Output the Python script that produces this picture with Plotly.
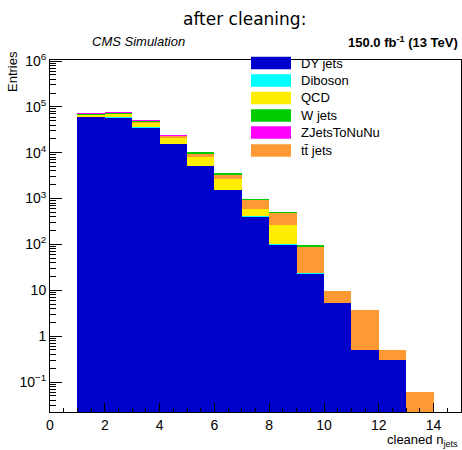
import plotly.graph_objects as go

# bin centres of cleaned n_jets (bins of width 1)
bin_centers = [1.5, 2.5, 3.5, 4.5, 5.5, 6.5, 7.5, 8.5, 9.5, 10.5, 11.5, 12.5, 13.5]

dy_jets = [61000, 60000, 35500, 15700, 5200, 1545, 406, 102, 23.8, 5.3, 0.5, 0.3, None]
diboson = [200, 200, 150, 100, 40, 8, 1, 0.3, 0.05, None, None, None, None]
qcd = [7500, 11000, 10800, 5650, 2900, 1145, 199, 163, None, None, None, None, None]
ttbar = [600, 800, 2500, 2300, 1550, 700, 350, 220, 68, 4.2, 3.15, 0.19, 0.06]
w_jets = [700, 1500, 600, 500, 270, 70, 20, 9, 2, None, None, None, None]
zjets_nunu = [30, 30, 20, 10, None, None, None, None, None, None, None, None, None]

legend_names = ["DY jets", "Diboson", "QCD", "W jets", "ZJetsToNuNu", "t\u0074\u0304 jets"]
colors = {
    "DY jets": "#0000CC",
    "Diboson": "#00FFFF",
    "QCD": "#FFEE00",
    "W jets": "#00CC00",
    "ZJetsToNuNu": "#FF00FF",
    "t\u0074\u0304 jets": "#FF9933",
}

# stacking order (bottom to top)
stack = [
    ("DY jets", dy_jets),
    ("Diboson", diboson),
    ("QCD", qcd),
    ("t\u0074\u0304 jets", ttbar),
    ("W jets", w_jets),
    ("ZJetsToNuNu", zjets_nunu),
]

y_tick_vals = [0.1, 1, 10, 100, 1e3, 1e4, 1e5, 1e6]
y_tick_text = ["10<sup>\u22121</sup>", "1", "10", "10<sup>2</sup>", "10<sup>3</sup>",
               "10<sup>4</sup>", "10<sup>5</sup>", "10<sup>6</sup>"]
x_tick_vals = [0, 2, 4, 6, 8, 10, 12, 14]

fig = go.Figure()
for name, vals in stack:
    fig.add_trace(go.Bar(
        x=bin_centers, y=vals, width=1, name=name,
        marker=dict(color=colors[name], line=dict(width=0)),
        showlegend=False,
    ))

FONT = "Liberation Sans, Arial, sans-serif"
W, H = 462, 450
L, R, T, B = 50, 1, 60, 38
pw, ph = W - L - R, H - T - B

def px(x):
    return (x - L) / pw

def py(y):
    return (H - B - y) / ph

minor_y = []
for e in range(-2, 6):
    for m in range(2, 10):
        v = m * 10 ** e
        if v > 0.0221 and v < 1.05e6:
            minor_y.append(v)

fig.update_layout(
    width=W, height=H,
    margin=dict(l=L, r=R, t=T, b=B),
    paper_bgcolor="white", plot_bgcolor="white",
    barmode="stack", bargap=0,
    font=dict(family=FONT, size=13, color="black"),
    xaxis=dict(
        range=[0, 15], showgrid=False, zeroline=False,
        showline=True, linecolor="black", linewidth=1, mirror=True,
        ticks="inside", ticklen=9, tickcolor="black",
        tickvals=x_tick_vals, ticktext=[str(v) for v in x_tick_vals],
        tickfont=dict(family=FONT, size=14),
        minor=dict(ticks="inside", ticklen=4, dtick=0.5, tick0=0, tickcolor="black", showgrid=False),
    ),
    yaxis=dict(
        type="log", range=[-1.654, 6.022], showgrid=False, zeroline=False,
        showline=True, linecolor="black", linewidth=1, mirror=True,
        ticks="inside", ticklen=12, tickcolor="black",
        tickvals=y_tick_vals, ticktext=y_tick_text,
        tickfont=dict(family=FONT, size=14),
        minor=dict(ticks="inside", ticklen=6, tickvals=minor_y, tickcolor="black", showgrid=False),
    ),
)

ann = []
ann.append(dict(text="after cleaning:", x=px(244.5), y=py(19), xref="paper", yref="paper",
                xanchor="center", yanchor="middle", showarrow=False,
                font=dict(family="DejaVu Sans", size=17)))
ann.append(dict(text="<i>CMS Simulation</i>", x=px(90), y=py(41.5), xref="paper", yref="paper",
                xanchor="left", yanchor="middle", showarrow=False,
                font=dict(family=FONT, size=13)))
ann.append(dict(text="<b>150.0 fb<sup>-1</sup> (13 TeV)</b>", x=px(460), y=py(41.5), xref="paper", yref="paper",
                xanchor="right", yanchor="middle", showarrow=False,
                font=dict(family=FONT, size=13)))
ann.append(dict(text="Entries", x=px(13), y=py(72), xref="paper", yref="paper",
                xanchor="center", yanchor="middle", textangle=-90, showarrow=False,
                font=dict(family=FONT, size=13)))
ann.append(dict(text="cleaned n<sub>jets</sub>", x=px(460), y=py(440), xref="paper", yref="paper",
                xanchor="right", yanchor="middle", showarrow=False,
                font=dict(family=FONT, size=13)))

shapes = []
row_centers = [63, 80.5, 98, 115.5, 132.5, 150.5]
for name, yc in zip(legend_names, row_centers):
    shapes.append(dict(type="rect", xref="paper", yref="paper",
                       x0=px(251), x1=px(291), y0=py(yc + 6.3), y1=py(yc - 6.3),
                       fillcolor=colors[name], line=dict(width=0)))
    ann.append(dict(text=name, x=px(299), y=py(yc), xref="paper", yref="paper",
                    xanchor="left", yanchor="middle", showarrow=False,
                    font=dict(family=FONT, size=13)))

fig.update_layout(annotations=ann, shapes=shapes)
fig.write_html("out.html", config={"displayModeBar": False},
               post_script="document.body.style.margin='0';document.body.style.overflow='hidden';")
